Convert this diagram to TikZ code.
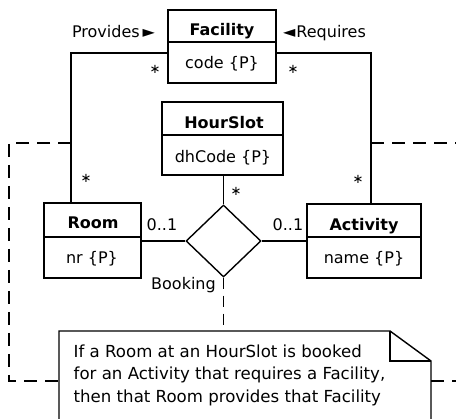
\documentclass[tikz,border=0pt]{standalone}
\usepackage{fontspec}
\setmainfont{DejaVu Sans}
\usetikzlibrary{shapes.geometric}
\begin{document}
\begin{tikzpicture}[x=1pt,y=-1pt,line width=1.4pt,
  font=\fontsize{16}{19}\selectfont,
  box/.style={draw,inner sep=0pt},
  txt/.style={inner sep=0pt,text height=11.7pt,text depth=0pt},
  btxt/.style={txt,font=\fontsize{16}{19}\selectfont\bfseries},
  mult/.style={inner sep=0pt,anchor=base,font=\fontsize{13}{15}\selectfont},
  ntxt/.style={inner sep=0pt,anchor=base west,font=\fontsize{16.6}{20}\selectfont},
  bnd/.style={dash pattern=on 13pt off 8pt},
  conn/.style={dash pattern=on 11pt off 7pt},
  rel/.style={diamond,draw,inner sep=0pt,minimum width=75pt,minimum height=72pt}]
\useasboundingbox (0,0) rectangle (456,419);
\clip (0,0) rectangle (456,419);
% Facility
\node[box,minimum width=108pt,minimum height=32pt] (fT) at (222,26) {};
\node[box,minimum width=108pt,minimum height=41pt] (fA) at (222,62.5) {};
\node[btxt] (fTt) at (222,30) {Facility};
\node[txt] (fAt) at (222,63) {code \{P\}};
% HourSlot
\node[box,minimum width=121pt,minimum height=33pt] (hT) at (222.5,118.5) {};
\node[box,minimum width=121pt,minimum height=40pt] (hA) at (222.5,155) {};
\node[btxt] (hTt) at (224,123) {HourSlot};
\node[txt] (hAt) at (223,157) {dhCode \{P\}};
% Room
\node[box,minimum width=97pt,minimum height=34pt] (rT) at (92.5,220) {};
\node[box,minimum width=97pt,minimum height=41pt] (rA) at (92.5,257.5) {};
\node[btxt] (rTt) at (93,223) {Room};
\node[txt] (rAt) at (92,258) {nr \{P\}};
% Activity
\node[box,minimum width=114pt,minimum height=33pt] (aT) at (364,220.5) {};
\node[box,minimum width=114pt,minimum height=41pt] (aA) at (364,257.5) {};
\node[btxt] (aTt) at (364,225) {Activity};
\node[txt] (aAt) at (364,258) {name \{P\}};
% Booking
\node[rel] (bk) at (223.5,241) {};
\node[txt] (bkt) at (183.5,284) {Booking};
% connectors
\coordinate (cpL) at (71,53);
\coordinate (cpR) at (371,53);
\draw (fA.west |- cpL) -- (cpL) -- (rT.north -| cpL);
\draw (fA.east |- cpR) -- (cpR) -- (aT.north -| cpR);
\draw (bk.north |- hA.south) -- (bk.north);
\draw (bk.west) -- (bk.west -| rA.east);
\draw (bk.east) -- (bk.east -| aA.west);
% labels
\node[txt] (prov) at (113.5,32) {Provides\hspace{3pt}►};
\node[txt] (req) at (324.5,32) {◄\hspace{1pt}Requires};
\node[txt] (m1) at (162,225) {0..1};
\node[txt] (m2) at (288,225) {0..1};
\node[mult] (s1) at (155,74) {∗};
\node[mult] (s2) at (293,74) {∗};
\node[mult] (s3) at (86,183) {∗};
\node[mult] (s4) at (358,184) {∗};
\node[mult] (s5) at (236,196) {∗};
% note
\coordinate (nTL) at (59,331);
\coordinate (nF) at (390,331);
\coordinate (nFB) at (390,361);
\coordinate (nTR) at (431,361);
\draw[fill=white] (59,430) -- (nTL) -- (nF) -- (nTR) -- (431,430);
\draw (nF) -- (nFB) -- (nTR);
\draw[conn] (bk.south) -- (bk.south |- nTL);
\node[ntxt] (n1) at (73,357.5) {If a Room at an HourSlot is booked};
\node[ntxt] (n2) at (73,380) {for an Activity that requires a Facility,};
\node[ntxt] (n3) at (73,402.5) {then that Room provides that Facility};
% boundary
\coordinate (bTL) at (9,143);
\coordinate (bBL) at (9,381);
\coordinate (bTR) at (456,143);
\coordinate (bBR) at (456,381);
\draw[bnd] (bTL -| cpL) -- (bTL) -- (bBL) -- (bBL -| nTL);
\draw[bnd] (bTR -| cpR) -- (bTR);
\draw[bnd] (bBR -| nTR) -- (bBR);
\end{tikzpicture}
\end{document}
